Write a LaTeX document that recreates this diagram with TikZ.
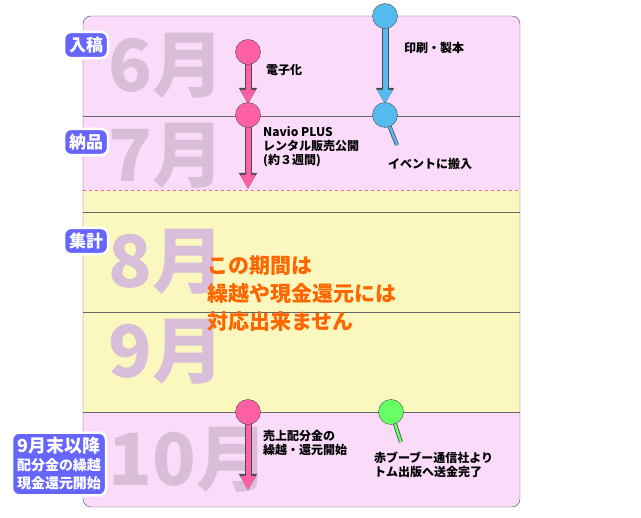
\documentclass[tikz,border=0pt]{standalone}
\usepackage{fontspec}
\usetikzlibrary{arrows.meta}
\setmainfont{Noto Sans CJK JP}
\begin{document}
\begin{tikzpicture}[x=1pt,y=-1pt,font=\bfseries,
  mon/.style={font=\fontsize{72}{72}\selectfont\bfseries,anchor=west},
  tag/.style={fill=blue!60,draw=white,line width=2.5pt,rounded corners=7pt,text=white,font=\fontsize{17}{18}\selectfont\bfseries,inner sep=5pt,align=center},
  lab/.style={font=\fontsize{12}{14}\selectfont\bfseries,anchor=north west,align=left,inner sep=0pt},
  dot/.style={circle,draw=black!70,minimum size=25pt,inner sep=0pt},
  arr/.style={line width=5pt,-{Triangle[width=14pt,length=14pt]}},
  arro/.style={draw=black!70,line width=7pt,-{Triangle[width=17pt,length=16pt]}},
  stem/.style={line width=2.5pt}]
\useasboundingbox (0,0) rectangle (641,518);
\definecolor{pk}{HTML}{FADCFA}\definecolor{yl}{HTML}{FAF8BE}
\definecolor{hot}{HTML}{FF5FA5}\definecolor{sky}{HTML}{55BBEE}\definecolor{grn}{HTML}{66FF66}
\definecolor{mn}{HTML}{D8BED8}
\begin{scope}
\clip[rounded corners=8pt] (83,16) rectangle (520,507);
\fill[pk] (83,16) rectangle (520,190);
\fill[yl] (83,190) rectangle (520,412);
\fill[pk] (83,412) rectangle (520,507);
\draw[black!60] (83,116)--(520,116) (83,212)--(520,212) (83,312)--(520,312) (83,412)--(520,412);
\draw[hot,dashed,thick] (83,190)--(520,190);
\end{scope}
\draw[black!70,rounded corners=8pt] (83,16) rectangle (520,507);
\node[mon,text=mn] (m6) at (105,66) {6月};
\node[mon,text=mn] (m7) at (105,156) {7月};
\node[mon,text=mn] (m8) at (105,262) {8月};
\node[mon,text=mn] (m9) at (105,352) {9月};
\node[mon,text=mn] (m10) at (105,460) {10月};
\node[tag] (t1) at (86,45) {入稿};
\node[tag] (t2) at (86,142) {納品};
\node[tag] (t3) at (86,241) {集計};
\node[tag,font=\fontsize{14}{18}\selectfont\bfseries] (t4) at (59,464) {{\fontsize{18}{19}\selectfont 9月末以降}\\配分金の繰越\\現金還元開始};
\coordinate (e1) at (248,104);\coordinate (e2) at (248,189);\coordinate (e3) at (248,490);
\coordinate (s1) at (397,145);\coordinate (s2) at (401,442);\coordinate (e4) at (385,104);
\draw[arro] (248,52)--(e1);
\draw[arr,hot] (248,52)--(e1);
\draw[arro] (248,115)--(e2);
\draw[arr,hot] (248,115)--(e2);
\draw[arro] (248,412)--(e3);
\draw[arr,hot] (248,412)--(e3);
\draw[arro] (385,16)--(e4);
\draw[arr,sky] (385,16)--(e4);
\node[dot,fill=hot] (p1) at (248,52) {};
\node[dot,fill=hot] (p2) at (248,115) {};
\node[dot,fill=hot] (p3) at (248,412) {};
\node[dot,fill=sky] (b1) at (385,16) {};
\draw[black!70,line width=4pt] (385,115)--(s1);\draw[sky,stem] (385,115)--(s1);
\node[dot,fill=sky] (b2) at (385,115) {};
\draw[black!70,line width=4pt] (391,412)--(s2);\draw[grn,stem] (391,412)--(s2);
\node[dot,fill=grn] (g1) at (391,412) {};
\node[lab] (l1) at (266,64) {電子化};
\node[lab] (l2) at (404,42) {印刷・製本};
\node[lab] (l3) at (263,126) {Navio PLUS\\レンタル販売公開\\(約３週間)};
\node[lab] (l4) at (388,158) {イベントに搬入};
\node[lab] (l5) at (263,430) {売上配分金の\\繰越・還元開始};
\node[lab] (l6) at (374,452) {赤ブーブー通信社より\\トム出版へ送金完了};
\node[lab,text=orange!80!red,font=\fontsize{21}{28}\selectfont\bfseries] (c) at (207,256) {この期間は\\繰越や現金還元には\\対応出来ません};
\end{tikzpicture}
\end{document}
